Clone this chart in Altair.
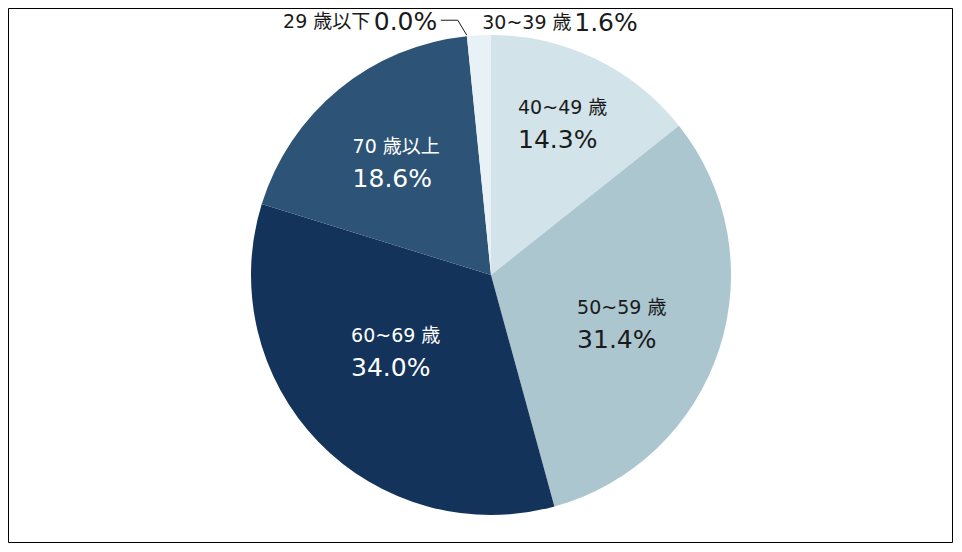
import altair as alt
import pandas as pd

categories = ["40~49 歳", "50~59 歳", "60~69 歳", "70 歳以上", "29 歳以下", "30~39 歳"]
values = [14.3, 31.4, 34.0, 18.6, 0.0, 1.6]
pct_labels = ["14.3%", "31.4%", "34.0%", "18.6%", "0.0%", "1.6%"]
slice_colors = ["#d3e3ea", "#abc6cf", "#13335b", "#2d5377", "#e8f1f5", "#e8f1f5"]
text_colors = ["#1a1a1a", "#1a1a1a", "#ffffff", "#ffffff", "#1a1a1a", "#1a1a1a"]

df = pd.DataFrame({
    "cat": categories,
    "value": values,
    "pct": pct_labels,
    "idx": list(range(len(categories))),
})

FONT = "DejaVu Sans, Noto Sans CJK JP, sans-serif"
NAME_SIZE, PCT_SIZE = 19, 25
CX, CY, R = 483, 267, 240
W, H = 945, 535


def with_angles(chart):
    return (
        chart.transform_joinaggregate(total="sum(value)")
        .transform_window(cum="sum(value)", sort=[alt.SortField("idx")], frame=[None, 0])
        .transform_calculate(
            mid="(datum.cum - datum.value / 2) / datum.total * 2 * PI",
            start="(datum.cum - datum.value) / datum.total * 2 * PI",
        )
    )


frame = alt.Chart(df).transform_filter(alt.datum.idx == 0).mark_rect(
    filled=False, stroke="#000000", strokeWidth=1
).encode(
    x=alt.value(0.5), x2=alt.value(W - 0.5), y=alt.value(0.5), y2=alt.value(H - 0.5)
)

arcs = alt.Chart(df).mark_arc(outerRadius=R).encode(
    theta=alt.Theta("value:Q", stack=True),
    order=alt.Order("idx:Q"),
    color=alt.Color("cat:N", scale=alt.Scale(domain=categories, range=slice_colors), legend=None),
    x=alt.value(CX),
    y=alt.value(CY),
)

# inside label layout: radius, dx, dy-shift
inside = {
    "40~49 歳": (168, -46, 0),
    "50~59 歳": (140, -47, 5),
    "60~69 歳": (121, -53, -7),
    "70 歳以上": (146, -46, 1),
}

layers = [frame, arcs]
for i, c in enumerate(categories):
    if c not in inside:
        continue
    r, dx, sh = inside[c]
    base = with_angles(alt.Chart(df)).transform_filter(alt.datum.cat == c)
    enc = dict(
        theta=alt.Theta("mid:Q", scale=None),
        radius=alt.value(r),
        x=alt.value(CX),
        y=alt.value(CY),
    )
    layers.append(
        base.mark_text(font=FONT, fontSize=NAME_SIZE, align="left", baseline="middle",
                       dx=dx, dy=sh - 16, color=text_colors[i]).encode(text="cat:N", **enc)
    )
    layers.append(
        base.mark_text(font=FONT, fontSize=PCT_SIZE, align="left", baseline="middle",
                       dx=dx, dy=sh + 16, color=text_colors[i]).encode(text="pct:N", **enc)
    )

# outside labels: radius, align, name dx, pct dx
outside = {
    "29 歳以下": (256, "right", -95, -28),
    "30~39 歳": (254, "left", 4, 96),
}
for i, c in enumerate(categories):
    if c not in outside:
        continue
    r, al, dxn, dxp = outside[c]
    base = with_angles(alt.Chart(df)).transform_filter(alt.datum.cat == c)
    ang = "start" if c == "29 歳以下" else "mid"
    enc = dict(
        theta=alt.Theta(f"{ang}:Q", scale=None),
        radius=alt.value(r),
        x=alt.value(CX),
        y=alt.value(CY),
    )
    layers.append(
        base.mark_text(font=FONT, fontSize=NAME_SIZE, align=al, baseline="middle",
                       dx=dxn, dy=2, color=text_colors[i]).encode(text="cat:N", **enc)
    )
    layers.append(
        base.mark_text(font=FONT, fontSize=PCT_SIZE, align=al, baseline="middle",
                       dx=dxp, dy=1.5, color=text_colors[i]).encode(text="pct:N", **enc)
    )

# leader line for the zero slice
lead = (
    with_angles(alt.Chart(df))
    .transform_filter(alt.datum.cat == "29 歳以下")
    .transform_calculate(
        x0=f"{CX} + {R + 1} * sin(datum.start)",
        y0=f"{CY} - {R + 1} * cos(datum.start)",
    )
    .transform_calculate(x1="datum.x0 - 9", y1="datum.y0 - 15")
    .transform_calculate(x2="datum.x1 - 17", y2="datum.y1")
)
lead1 = lead.mark_rule(color="#1a1a1a", strokeWidth=1).encode(
    x=alt.X("x0:Q", scale=None), y=alt.Y("y0:Q", scale=None),
    x2="x1:Q", y2="y1:Q",
)
lead2 = lead.mark_rule(color="#1a1a1a", strokeWidth=1).encode(
    x=alt.X("x1:Q", scale=None), y=alt.Y("y1:Q", scale=None),
    x2="x2:Q", y2="y2:Q",
)
layers += [lead1, lead2]

chart = (
    alt.layer(*layers)
    .properties(width=W, height=H, padding=0, autosize="none")
    .configure_view(strokeWidth=0)
    .configure(background="white")
)

chart.save("out.html", embed_options={"renderer": "svg", "actions": False})
